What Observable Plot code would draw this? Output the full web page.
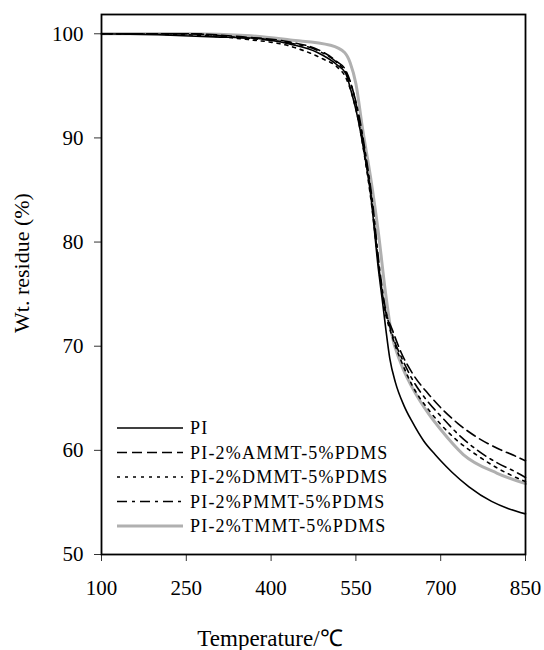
<!DOCTYPE html>
<html>
<head>
<meta charset="utf-8">
<script src="https://cdn.jsdelivr.net/npm/d3@7"></script>
<script src="https://cdn.jsdelivr.net/npm/@observablehq/plot@0.6"></script>
<style>
  html, body { margin: 0; padding: 0; background: #fff; }
  svg text { font-family: "Liberation Serif", "Times New Roman", Times, serif; }
</style>
</head>
<body>
<div id="chart"></div>
<script>
// ---- data ----
const seriesNames = ["PI", "PI-2%AMMT-5%PDMS", "PI-2%DMMT-5%PDMS", "PI-2%PMMT-5%PDMS", "PI-2%TMMT-5%PDMS"];
const xTicks = [100, 250, 400, 550, 700, 850];
const yTicks = [50, 60, 70, 80, 90, 100];

const piT = [100, 200, 300, 364, 434, 482, 517, 532, 541, 553, 564, 576, 590, 597, 603, 610, 620, 635, 650, 670, 690, 700, 720, 750, 790, 820, 850];
const piW = [100, 99.9, 99.7, 99.6, 99.0, 98.2, 97.0, 96.2, 94.6, 92.0, 88.8, 84.6, 77.3, 74.3, 71.6, 68.8, 66.5, 64.3, 62.7, 60.9, 59.6, 59.0, 57.9, 56.5, 55.1, 54.4, 53.9];

const ammtT = [100, 250, 350, 434, 482, 517, 532, 545, 555, 566, 578, 592, 600, 615, 630, 650, 680, 700, 730, 760, 800, 830, 850];
const ammtW = [100, 100, 99.7, 99.2, 98.5, 97.3, 96.5, 94.5, 92.0, 88.5, 84.0, 77.0, 74.0, 71.5, 69.4, 67.4, 65.3, 64.1, 62.6, 61.4, 60.2, 59.5, 59.0];

const dmmtT = [100, 250, 350, 434, 491, 517, 532, 545, 555, 566, 578, 592, 600, 615, 630, 650, 680, 700, 730, 765, 800, 850];
const dmmtW = [100, 99.9, 99.5, 98.8, 97.6, 96.8, 95.8, 93.8, 91.5, 88.0, 83.5, 76.8, 73.8, 70.8, 68.6, 66.2, 63.8, 62.5, 60.9, 59.5, 58.3, 57.0];

const pmmtT = [100, 250, 350, 434, 482, 517, 532, 545, 556, 567, 579, 593, 601, 615, 630, 650, 680, 700, 730, 765, 800, 830, 850];
const pmmtW = [100, 100, 99.6, 99.1, 98.4, 97.2, 96.3, 94.5, 92.0, 88.5, 84.0, 77.0, 74.0, 71.0, 69.0, 66.8, 64.5, 63.3, 61.6, 60.0, 58.8, 58.0, 57.4];

const tmmtT = [100, 250, 364, 434, 505, 530, 540, 550, 562, 576, 590, 602, 612, 630, 650, 680, 700, 740, 800, 850];
const tmmtW = [100, 100, 99.8, 99.4, 98.9, 98.2, 97.2, 95.2, 90.8, 86.2, 80.8, 75.3, 71.5, 68.3, 66.0, 63.4, 62.0, 59.6, 57.8, 56.8];

// ---- styles ----
const styles = [
  {stroke: "#000", strokeWidth: 1.6, dash: null},
  {stroke: "#000", strokeWidth: 1.6, dash: "10,5"},
  {stroke: "#000", strokeWidth: 1.6, dash: "3,5"},
  {stroke: "#000", strokeWidth: 1.6, dash: "10,5,3,5"},
  {stroke: "#b0b0b0", strokeWidth: 3, dash: null}
];

const toRows = (T, W, name) => T.map((t, i) => ({T: t, W: W[i], series: name}));
const sets = [
  toRows(piT, piW, seriesNames[0]),
  toRows(ammtT, ammtW, seriesNames[1]),
  toRows(dmmtT, dmmtW, seriesNames[2]),
  toRows(pmmtT, pmmtW, seriesNames[3]),
  toRows(tmmtT, tmmtW, seriesNames[4])
];

const drawOrder = [4, 0, 1, 2, 3];
const lineMarks = drawOrder.map(i => Plot.line(sets[i], {
  x: "T", y: "W",
  stroke: styles[i].stroke,
  strokeWidth: styles[i].strokeWidth,
  strokeDasharray: styles[i].dash,
  curve: "monotone-x"
}));

const serif = '"Liberation Serif", "Times New Roman", Times, serif';
const W = 544, H = 650;
const chart = Plot.plot({
  width: W, height: H,
  marginLeft: 101, marginRight: 19, marginTop: 14, marginBottom: 96,
  style: {fontFamily: serif, fontSize: "21px", color: "#000", background: "#fff"},
  x: {domain: [100, 850]},
  y: {domain: [50, 101.85]},
  marks: [
    Plot.axisX({ticks: xTicks, tickSize: 7, tickPadding: 19, label: null, fontSize: 21, stroke: "#333"}),
    Plot.axisY({ticks: yTicks, tickSize: 7, tickPadding: 11, label: null, fontSize: 21, stroke: "#333"}),
    ...lineMarks,
    Plot.frame({stroke: "#000", strokeWidth: 1.8})
  ]
});
document.getElementById("chart").appendChild(chart);

// ---- titles and legend ----
const svg = d3.select(chart);
svg.append("text")
  .attr("transform", "translate(29,263) rotate(-90)")
  .attr("text-anchor", "middle")
  .style("font-family", serif).attr("font-size", 22).attr("fill", "#000")
  .text("Wt. residue (%)");
svg.append("text")
  .attr("x", 270).attr("y", 646)
  .attr("text-anchor", "middle")
  .style("font-family", serif).attr("font-size", 23).attr("fill", "#000")
  .text("Temperature/℃");

const leg = svg.append("g").attr("text-anchor", "start");
const legendOrder = [0, 1, 2, 3, 4];
legendOrder.forEach((i, k) => {
  const y = 428 + k * 24.5;
  leg.append("line")
    .attr("x1", 117).attr("x2", 183).attr("y1", y).attr("y2", y)
    .attr("stroke", styles[i].stroke)
    .attr("stroke-width", styles[i].strokeWidth)
    .attr("stroke-dasharray", styles[i].dash);
  leg.append("text")
    .attr("x", 190).attr("y", y).attr("dy", "0.35em")
    .attr("text-anchor", "start")
    .style("font-family", serif).attr("font-size", 18)
    .attr("letter-spacing", "1.2px").attr("fill", "#000")
    .text(seriesNames[i]);
});
</script>
</body>
</html>
